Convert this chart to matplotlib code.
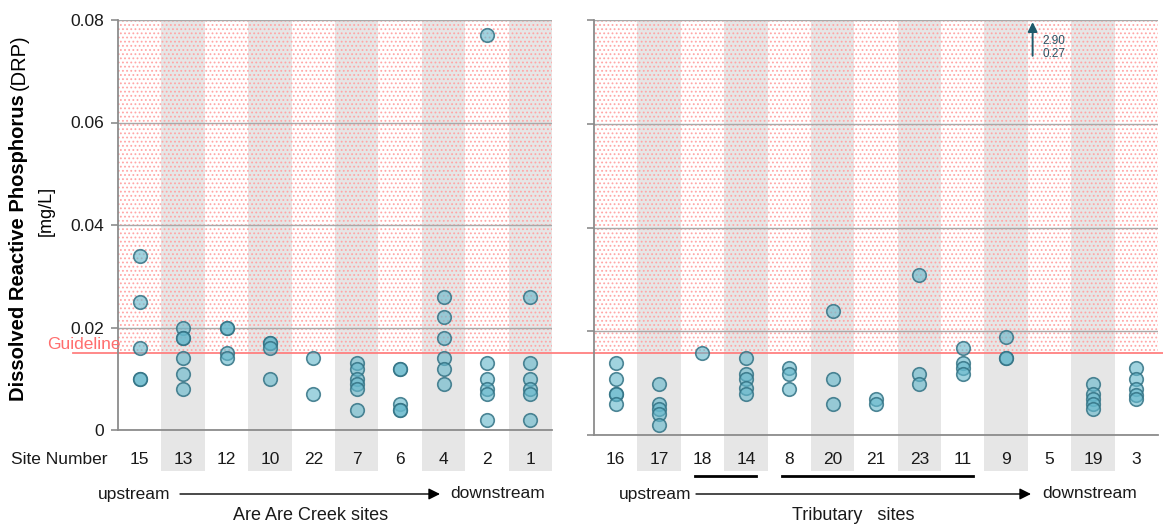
import matplotlib
matplotlib.use("Agg")
import matplotlib.pyplot as plt
from matplotlib.patches import Rectangle, FancyArrowPatch
from matplotlib.transforms import blended_transform_factory as blend

plt.rcParams['font.family'] = ['Liberation Sans', 'DejaVu Sans']
plt.rcParams['hatch.linewidth'] = 0.8

# ---- data -------------------------------------------------------------
GUIDELINE = 0.015
Y_MAX = 0.08
Y_TICKS = [0, 0.02, 0.04, 0.06, 0.08]
Y_TICK_LABELS = ["0", "0.02", "0.04", "0.06", "0.08"]

CREEK_SITES = ["15", "13", "12", "10", "22", "7", "6", "4", "2", "1"]
CREEK_DRP = [
    [0.034, 0.025, 0.016, 0.010, 0.010],
    [0.020, 0.018, 0.018, 0.014, 0.011, 0.008],
    [0.020, 0.020, 0.015, 0.014],
    [0.017, 0.017, 0.016, 0.010],
    [0.014, 0.007],
    [0.013, 0.012, 0.010, 0.009, 0.008, 0.004],
    [0.012, 0.012, 0.005, 0.004, 0.004],
    [0.026, 0.022, 0.018, 0.014, 0.012, 0.009],
    [0.077, 0.013, 0.010, 0.008, 0.007, 0.002],
    [0.026, 0.013, 0.010, 0.008, 0.007, 0.002],
]

TRIB_SITES = ["16", "17", "18", "14", "8", "20", "21", "23", "11", "9", "5", "19", "3"]
TRIB_DRP = [
    [0.0138, 0.0108, 0.0080, 0.0080, 0.0060],
    [0.0098, 0.0060, 0.0050, 0.0040, 0.0019],
    [0.0159],
    [0.0148, 0.0118, 0.0108, 0.0090, 0.0080],
    [0.0129, 0.0118, 0.0088],
    [0.0239, 0.0108, 0.0060],
    [0.0069, 0.0060],
    [0.0308, 0.0118, 0.0098],
    [0.0168, 0.0138, 0.0129, 0.0118],
    [0.0188, 0.0148, 0.0148],
    [],
    [0.0098, 0.0080, 0.0069, 0.0060, 0.0050],
    [0.0129, 0.0108, 0.0088, 0.0078, 0.0069],
]

OFFSCALE_SITE = "5"
OFFSCALE_VALUES = [2.90, 0.27]
UNDERLINED_GROUPS = [("18", "14"), ("8", "11")]

# ---- styling ------------------------------------------------------------
W, H = 1163, 531
BAND = "#e6e6e6"
HATCH = "#ffa6a6"
GRID = "#a8a8a8"
SPINE = "#8c8c8c"
RED = "#ff8080"
FACE = (0.40, 0.72, 0.80, 0.62)
EDGE = (0.20, 0.45, 0.52, 0.85)
TXT = "#1a1a1a"
FS = 12.5


def fx(px):
    return px / W


def fy(py):
    return 1 - py / H


fig = plt.figure(figsize=(W / 100, H / 100), dpi=100)
fig.patch.set_facecolor("white")
axL = fig.add_axes([fx(118), fy(430), fx(552) - fx(118), fy(20) - fy(430)])
axR = fig.add_axes([fx(594), fy(435), fx(1158) - fx(594), fy(20) - fy(435)])


def draw_panel(ax, sites, values, band_bottom_px, bottom_px, label_pad):
    n = len(sites)
    ax.patch.set_visible(False)
    ax.set_xlim(-0.5, n - 0.5)
    ax.set_ylim(0, Y_MAX)

    # alternating grey site columns, running down behind the site labels
    ax_h = bottom_px - 20
    yb = -(band_bottom_px - bottom_px) / ax_h
    band_tr = blend(ax.transData, ax.transAxes)
    for i in range(1, n, 2):
        ax.add_patch(Rectangle((i - 0.5, yb), 1, 1 - yb, transform=band_tr,
                               facecolor=BAND, edgecolor="none", zorder=0,
                               clip_on=False))

    # dotted region above the guideline
    hatch_tr = blend(ax.transData, axL.transData)
    ax.add_patch(Rectangle((-0.5, GUIDELINE), n, Y_MAX - GUIDELINE,
                           transform=hatch_tr, facecolor="none",
                           edgecolor=HATCH, hatch="....", linewidth=0,
                           zorder=1))

    ax.set_yticks(Y_TICKS)
    ax.yaxis.grid(True, color=GRID, linewidth=1.0)
    ax.set_axisbelow("line")

    for i, vals in enumerate(values):
        if vals:
            ax.scatter([i] * len(vals), vals, s=95, facecolor=FACE,
                       edgecolor=EDGE, linewidth=1.2, zorder=3)

    for side in ("top", "right"):
        ax.spines[side].set_visible(False)
    for side in ("left", "bottom"):
        ax.spines[side].set_color(SPINE)
        ax.spines[side].set_linewidth(1.3)
    ax.tick_params(axis="y", length=5, width=1.2, color=SPINE, labelsize=FS,
                   labelcolor=TXT, pad=5)
    ax.set_xticks(range(n), sites)
    ax.tick_params(axis="x", length=0, labelsize=FS, labelcolor=TXT,
                   pad=label_pad)


draw_panel(axL, CREEK_SITES, CREEK_DRP, 471, 430, 15.5)
draw_panel(axR, TRIB_SITES, TRIB_DRP, 471, 435, 12)
axL.set_yticklabels(Y_TICK_LABELS)
axR.tick_params(axis="y", labelleft=False)

# guideline across both panels
axL.plot([(73 - 118) / 434, (594 - 118) / 434], [GUIDELINE, GUIDELINE],
         transform=blend(axL.transAxes, axL.transData), color=RED, lw=1.3,
         clip_on=False, zorder=2)
axR.plot([0, (1163 - 594) / 564], [GUIDELINE, GUIDELINE],
         transform=blend(axR.transAxes, axL.transData), color=RED, lw=1.3,
         clip_on=False, zorder=2)
axL.text(0.005, GUIDELINE + 0.0003, "Guideline",
         transform=blend(axL.transAxes, axL.transData), ha="right",
         va="bottom", color="#ff6e6e", fontsize=FS)

# off-scale values
k = TRIB_SITES.index(OFFSCALE_SITE)
axR.annotate("", xy=(k - 0.39, 0.0796), xytext=(k - 0.39, 0.0731),
             arrowprops=dict(arrowstyle="-|>", color="#1f5a6b", lw=1.4,
                             mutation_scale=14, shrinkA=0, shrinkB=0),
             zorder=4)
axR.text(k - 0.17, 0.0759, f"{OFFSCALE_VALUES[0]:.2f}", fontsize=8.5,
         color="#2d5566", va="center", ha="left")
axR.text(k - 0.17, 0.0734, f"{OFFSCALE_VALUES[1]:.2f}", fontsize=8.5,
         color="#2d5566", va="center", ha="left")

# underlines linking grouped tributary sites
ul_tr = blend(axR.transData, fig.transFigure)
for first, last in UNDERLINED_GROUPS:
    a, b = TRIB_SITES.index(first), TRIB_SITES.index(last)
    fig.add_artist(plt.Line2D([a - 0.17, b + 0.24], [fy(476), fy(476)],
                              transform=ul_tr, color="black", lw=2))

# axis titles and labels
fig.text(fx(11), fy(460), "Site Number", ha="left", va="center",
         fontsize=FS, color=TXT)


def flow_arrow(x0, x1, xt0, xt1, y):
    fig.text(fx(xt0), fy(y), "upstream", ha="right", va="center",
             fontsize=FS, color=TXT)
    fig.text(fx(xt1), fy(y), "downstream", ha="left", va="center",
             fontsize=FS, color=TXT)
    fig.add_artist(FancyArrowPatch(
        (fx(x0), fy(y)), (fx(x1), fy(y)), transform=fig.transFigure,
        arrowstyle="-|>", mutation_scale=17, color="black", lw=1.0,
        shrinkA=0, shrinkB=0))


flow_arrow(180, 440, 170, 450, 494)
flow_arrow(696, 1031, 691, 1042, 494)
fig.text(fx(311), fy(516), "Are Are Creek sites", ha="center", va="center",
         fontsize=13, color=TXT)
fig.text(fx(853), fy(516), "Tributary   sites", ha="center", va="center",
         fontsize=13, color=TXT)

# y-axis label: bold name followed by regular abbreviation, plus units
t1 = fig.text(fx(19), fy(401), "Dissolved Reactive Phosphorus", rotation=90,
              ha="center", va="bottom", fontsize=14.5, fontweight="bold",
              color="black")
renderer = fig.canvas.get_renderer()
bb = t1.get_window_extent(renderer)
fig.text(fx(19), (bb.y1 + 4) / H, "(DRP)", rotation=90, ha="center",
         va="bottom", fontsize=14.5, color="black")
fig.text(fx(46), fy(211), "[mg/L]", rotation=90, ha="center", va="center",
         fontsize=13, color="black")

fig.savefig("out.png", dpi=100)
